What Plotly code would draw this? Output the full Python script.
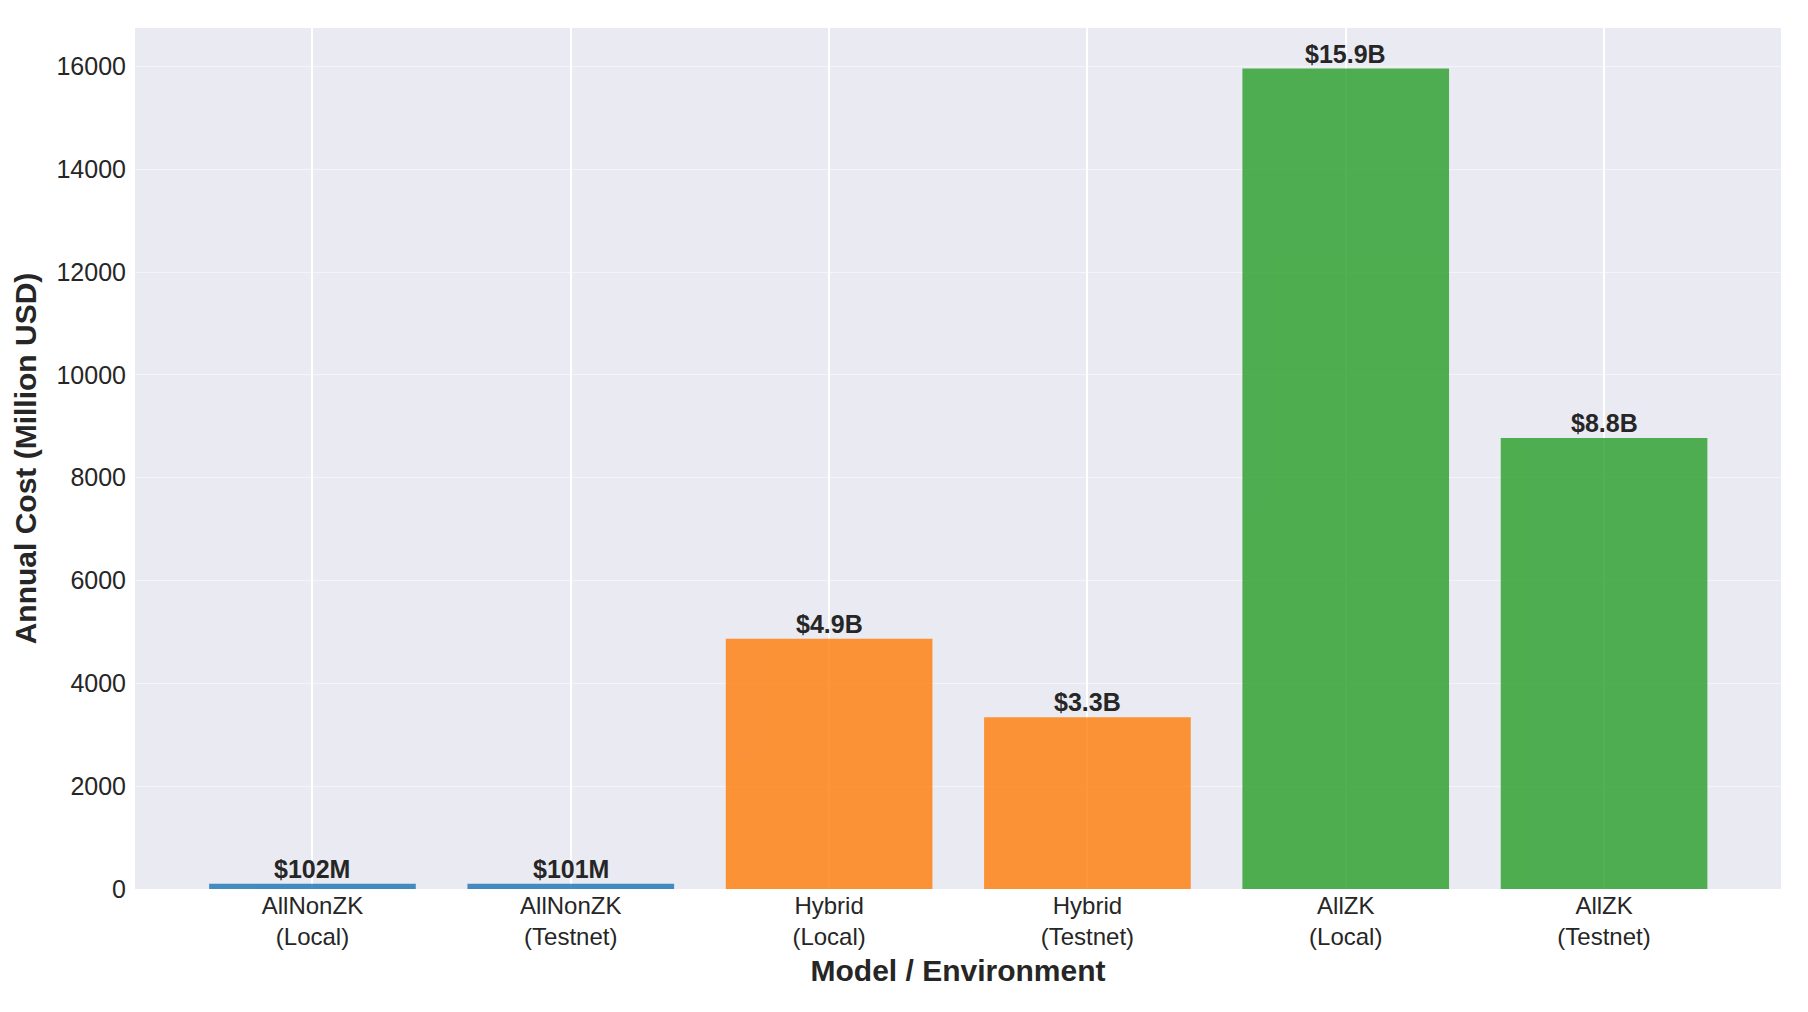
import plotly.graph_objects as go

categories = ["AllNonZK<br>(Local)", "AllNonZK<br>(Testnet)", "Hybrid<br>(Local)",
              "Hybrid<br>(Testnet)", "AllZK<br>(Local)", "AllZK<br>(Testnet)"]
values = [102, 101, 4868, 3343, 15960, 8772]
labels = ["$102M", "$101M", "$4.9B", "$3.3B", "$15.9B", "$8.8B"]
colors = ["#1f77b4", "#1f77b4", "#ff7f0e", "#ff7f0e", "#2ca02c", "#2ca02c"]
yticks = [0, 2000, 4000, 6000, 8000, 10000, 12000, 14000, 16000]

FONT = "Liberation Sans, Arial, sans-serif"
TXT = "#262626"

fig = go.Figure()
fig.add_trace(go.Bar(
    x=list(range(len(categories))), y=values,
    marker=dict(color=colors, line=dict(width=0)),
    opacity=0.82, width=0.8, showlegend=False, hoverinfo="skip",
))

for i, (v, lab) in enumerate(zip(values, labels)):
    fig.add_annotation(x=i, y=v, text="<b>" + lab + "</b>", showarrow=False,
                       yanchor="bottom", yshift=-1,
                       font=dict(family=FONT, size=25, color=TXT))

fig.update_layout(
    width=1808, height=1012,
    margin=dict(l=135, r=27, t=28, b=123),
    paper_bgcolor="white", plot_bgcolor="#eaeaf2",
    font=dict(family=FONT, color=TXT),
    bargap=0.2,
)
fig.update_xaxes(
    range=[-0.687, 5.685],
    tickmode="array", tickvals=list(range(len(categories))), ticktext=categories,
    tickfont=dict(size=24, color=TXT),
    showgrid=True, gridcolor="white", gridwidth=1.6,
    zeroline=False, showline=False, ticks="",
    title=dict(text="<b>Model / Environment</b>", font=dict(size=30, color=TXT), standoff=10),
)
fig.update_yaxes(
    range=[0, 16748],
    tickmode="array", tickvals=yticks, ticktext=[str(t) for t in yticks],
    tickfont=dict(size=25, color=TXT),
    showgrid=True, gridcolor="rgba(255,255,255,0.5)", gridwidth=1.2,
    zeroline=False, showline=False, ticks="", ticklabelstandoff=8,
    title=dict(text="<b>Annual Cost (Million USD)</b>", font=dict(size=30, color=TXT), standoff=10),
)

fig.write_html("out.html")
